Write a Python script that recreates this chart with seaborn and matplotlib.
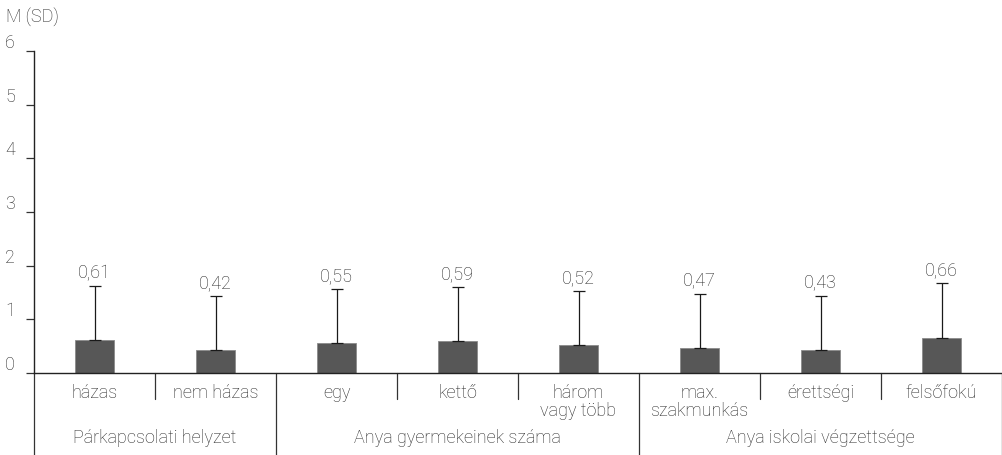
import matplotlib
matplotlib.use("Agg")
import matplotlib.pyplot as plt
import seaborn as sns
import pandas as pd

# ---- data ----
categories = ["házas", "nem házas", "egy", "kettő", "három\nvagy több",
              "max.\nszakmunkás", "érettségi", "felsőfokú"]
means = [0.61, 0.42, 0.55, 0.59, 0.52, 0.47, 0.43, 0.66]
sds = [1.01, 1.01, 1.01, 1.01, 1.01, 1.01, 1.01, 1.01]
value_labels = ["0,61", "0,42", "0,55", "0,59", "0,52", "0,47", "0,43", "0,66"]
groups = ["Párkapcsolati helyzet", "Anya gyermekeinek száma", "Anya iskolai végzettsége"]
group_sizes = [2, 3, 3]
y_ticks = [0, 1, 2, 3, 4, 5, 6]
y_label = "M (SD)"

sns.set_style("white")
plt.rcParams["font.family"] = ["Roboto", "DejaVu Sans"]
plt.rcParams["font.weight"] = "light"

TXT = "#262626"
FS = 13

fig = plt.figure(figsize=(10.02, 4.56), dpi=100)
ax = fig.add_axes([34 / 1002, 1 - 374 / 456, 1 - 34 / 1002, (374 - 52) / 456])

df = pd.DataFrame({"cat": categories, "mean": means})
sns.barplot(data=df, x="cat", y="mean", order=categories, color="#575757",
            saturation=1, width=0.32, edgecolor="#8a8a8a", linewidth=0.6, ax=ax)

xs = list(range(len(categories)))
ax.errorbar(xs, means, yerr=[[0] * len(sds), sds], fmt="none", ecolor="#1a1a1a",
            elinewidth=0.9, capsize=4, capthick=0.9)

for x, m, s, lab in zip(xs, means, sds, value_labels):
    ax.annotate(lab, xy=(x, m + s), xytext=(0, 6.5), textcoords="offset points",
                ha="center", va="baseline", fontsize=FS, color=TXT)

ax.set_xlim(-0.5, len(categories) - 0.5)
ax.set_ylim(0, 6)
ax.set_yticks(y_ticks)
ax.set_yticklabels([str(t) for t in y_ticks])
ax.tick_params(axis="y", left=True, length=5.8, width=0.9, color="#333333",
               pad=8, labelsize=FS, labelcolor=TXT)
for t in ax.get_yticklabels():
    t.set_va("bottom")
ax.set_xticks([])
ax.set_xlabel("")
ax.set_ylabel("")

for side in ["top", "right"]:
    ax.spines[side].set_visible(False)
for side in ["left", "bottom"]:
    ax.spines[side].set_color("#222222")
    ax.spines[side].set_linewidth(1.0)

# category labels
for x, c in zip(xs, categories):
    ax.annotate(c, xy=(x, 0), xycoords=("data", "axes fraction"),
                xytext=(0, -7.5), textcoords="offset points",
                ha="center", va="top", fontsize=FS, color=TXT,
                linespacing=1.0, annotation_clip=False)

# separators
trans = ax.get_xaxis_transform()
px = 1 / 322  # one pixel in axes fraction (axes height 322 px)
start = 0
boundaries = [0]
for g in group_sizes:
    start += g
    boundaries.append(start)
for i in range(len(categories) + 1):
    xb = i - 0.5
    if i in boundaries:
        ax.plot([xb, xb], [0, -82 * px], transform=trans, color="#333333",
                lw=0.9, clip_on=False)
    else:
        ax.plot([xb, xb], [0, -26 * px], transform=trans, color="#333333",
                lw=0.9, clip_on=False)

# group labels
for gi, g in enumerate(groups):
    b0, b1 = boundaries[gi], boundaries[gi + 1]
    xc = (b0 + b1 - 1) / 2
    ax.annotate(g, xy=(xc, 0), xycoords=("data", "axes fraction"),
                xytext=(0, -64 * 0.72), textcoords="offset points",
                ha="center", va="center", fontsize=FS, color=TXT,
                annotation_clip=False)

fig.text(6 / 1002, 1 - 17 / 456, y_label, ha="left", va="center",
         fontsize=FS, color=TXT)

fig.savefig("out.png", dpi=100)
